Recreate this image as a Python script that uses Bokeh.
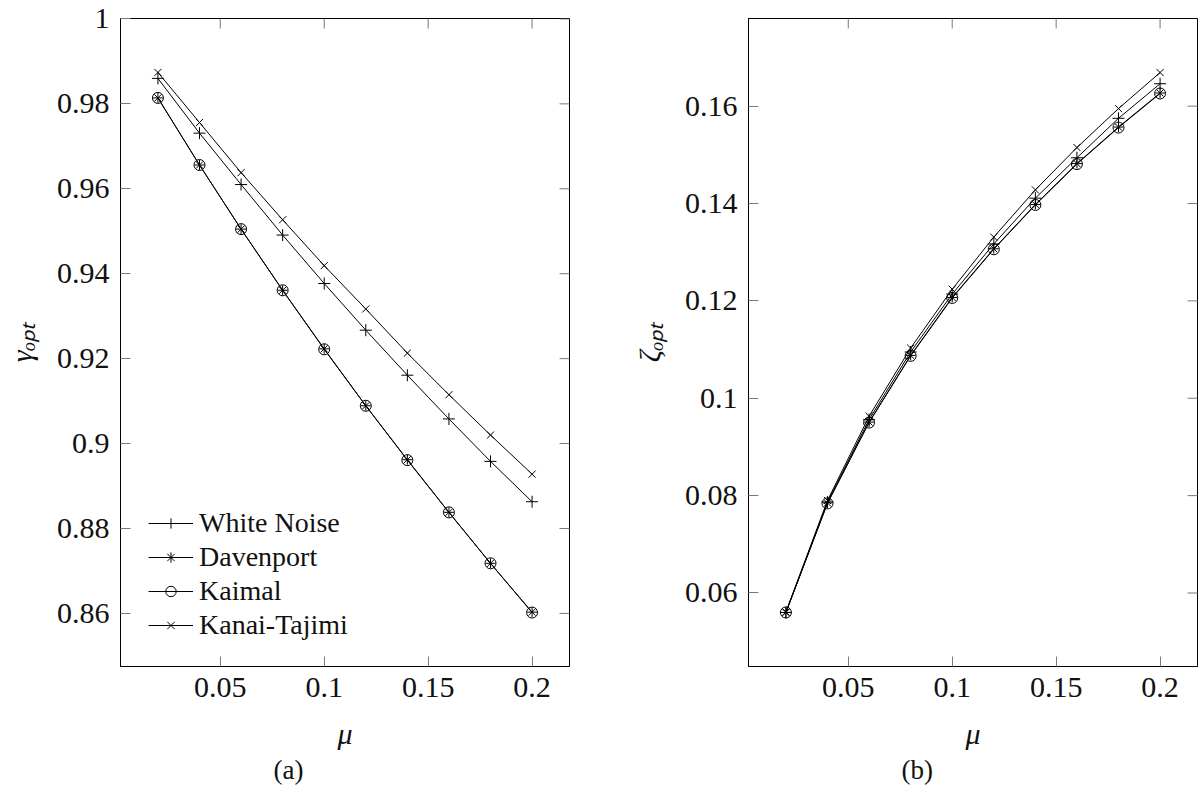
import math
from bokeh.plotting import figure
from bokeh.models import (Range1d, FixedTicker, Legend, LegendItem,
                          CustomJSTickFormatter, Title)
from bokeh.layouts import row
from bokeh.embed import file_html
from bokeh.resources import INLINE

# ---------------- data ----------------
mu = [0.02, 0.04, 0.06, 0.08, 0.10, 0.12, 0.14, 0.16, 0.18, 0.20]

gamma_white_noise = [0.9860, 0.9731, 0.9610, 0.9491, 0.9377, 0.9267, 0.9161, 0.9058, 0.8958, 0.8863]
gamma_davenport = [0.9814, 0.9656, 0.9505, 0.9361, 0.9223, 0.9089, 0.8962, 0.8838, 0.8718, 0.8603]
gamma_kaimal = [0.9814, 0.9656, 0.9505, 0.9361, 0.9222, 0.9089, 0.8961, 0.8838, 0.8718, 0.8602]
gamma_kanai_tajimi = [0.9874, 0.9756, 0.9638, 0.9527, 0.9419, 0.9317, 0.9213, 0.9115, 0.9020, 0.8928]

zeta_white_noise = [0.0560, 0.0787, 0.0956, 0.1095, 0.1214, 0.1317, 0.1411, 0.1494, 0.1575, 0.1646]
zeta_davenport = [0.0560, 0.0785, 0.0951, 0.1088, 0.1207, 0.1307, 0.1398, 0.1482, 0.1557, 0.1627]
zeta_kaimal = [0.0560, 0.0784, 0.0950, 0.1087, 0.1206, 0.1306, 0.1397, 0.1481, 0.1556, 0.1626]
zeta_kanai_tajimi = [0.0561, 0.0790, 0.0963, 0.1103, 0.1224, 0.1331, 0.1428, 0.1515, 0.1595, 0.1669]

series_names = ["White Noise", "Davenport", "Kaimal", "Kanai-Tajimi"]
x_ticks = [0.05, 0.1, 0.15, 0.2]
gamma_ticks = [0.86, 0.88, 0.9, 0.92, 0.94, 0.96, 0.98, 1.0]
zeta_ticks = [0.06, 0.08, 0.1, 0.12, 0.14, 0.16]

FONT = "Liberation Serif"
TICK_SIZE = "30px"
TICK_COLOR = "#7a7a7a"
fmt = CustomJSTickFormatter(code="return String(parseFloat(tick.toFixed(4)));")

markers = {
    "White Noise": ("cross", 12),
    "Davenport": ("asterisk", 10),
    "Kaimal": ("circle", 11),
    "Kanai-Tajimi": ("x", 10),
}


def style_axis(ax, ticks):
    ax.ticker = FixedTicker(ticks=ticks)
    ax.formatter = fmt
    ax.minor_tick_line_color = None
    ax.major_tick_in = 10
    ax.major_tick_out = 0
    ax.major_tick_line_color = TICK_COLOR
    ax.major_tick_line_width = 1
    ax.axis_line_color = "black"
    ax.axis_line_width = 1
    ax.major_label_text_font = FONT
    ax.major_label_text_font_size = TICK_SIZE
    ax.major_label_text_color = "#111111"
    ax.major_label_standoff = 11
    ax.axis_label_text_font = FONT
    ax.axis_label_text_font_size = "30px"
    ax.axis_label_text_font_style = "italic"
    ax.axis_label_text_color = "#111111"


def make_panel(ys, xr, yr, yticks, border_left, border_right, ylab, caption, cap_offset, legend):
    p = figure(width=600, height=792, output_backend="svg", toolbar_location=None,
               x_range=Range1d(*xr), y_range=Range1d(*yr),
               min_border_left=border_left, min_border_right=border_right,
               min_border_top=18, min_border_bottom=126)
    p.grid.visible = False
    p.outline_line_color = "black"
    p.outline_line_width = 1
    p.outline_line_alpha = 1
    p.background_fill_color = "white"
    p.border_fill_color = "white"
    style_axis(p.xaxis[0], x_ticks)
    style_axis(p.yaxis[0], yticks)
    p.xaxis[0].axis_label = "μ"
    p.xaxis[0].axis_label_standoff = 17
    p.yaxis[0].axis_label = ylab
    p.yaxis[0].axis_label_standoff = 16

    # inward ticks on the top and right edges (half of each dash is clipped by the frame)
    p.scatter(x_ticks, [yr[1]] * len(x_ticks), marker="dash", angle=math.pi / 2,
              size=20, line_color=TICK_COLOR, line_width=1)
    p.scatter([xr[1]] * len(yticks), yticks, marker="dash",
              size=20, line_color=TICK_COLOR, line_width=1)

    items = []
    for name, y in zip(series_names, ys):
        m, s = markers[name]
        lr = p.line(mu, y, line_color="black", line_width=1)
        sr = p.scatter(mu, y, marker=m, size=s, line_color="black", line_width=1,
                       fill_color=None)
        items.append(LegendItem(label=name, renderers=[lr, sr]))

    if legend:
        lg = Legend(items=items, location=(28, 25), margin=0, padding=0,
                    spacing=2, glyph_width=45, glyph_height=26, label_height=26,
                    label_standoff=6, label_text_font=FONT,
                    label_text_font_size="28px", label_text_color="#111111",
                    border_line_color=None, background_fill_alpha=0)
        p.add_layout(lg)

    p.add_layout(Title(text=caption, align="left", offset=cap_offset,
                       text_font=FONT, text_font_size="27px",
                       text_font_style="normal", text_color="#111111",
                       standoff=0), "below")
    return p


p1 = make_panel([gamma_white_noise, gamma_davenport, gamma_kaimal, gamma_kanai_tajimi],
                (0.002, 0.218), (0.8475, 1.0001), gamma_ticks, 120, 31,
                "γₒₚₜ", "(a)", 153, True)
p2 = make_panel([zeta_white_noise, zeta_davenport, zeta_kaimal, zeta_kanai_tajimi],
                (0.002, 0.218), (0.0449, 0.1780), zeta_ticks, 148, 3,
                "ζₒₚₜ", "(b)", 153, False)

layout = row(p1, p2)
open("out.html", "w").write(file_html(layout, INLINE))
